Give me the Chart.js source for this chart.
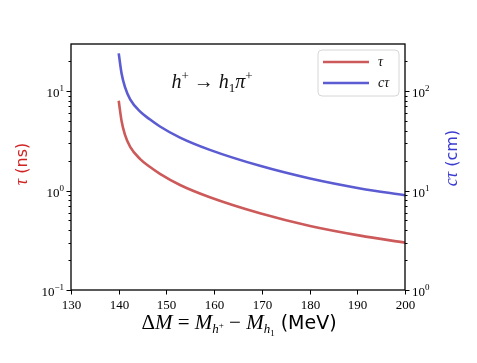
<!DOCTYPE html>
<html>
<head>
<meta charset="utf-8">
<script src="https://cdn.jsdelivr.net/npm/chart.js@4"></script>
<style>
  html, body { margin: 0; padding: 0; background: #fff; }
  #wrap { width: 477px; height: 363px; }
</style>
</head>
<body>
<div id="wrap"><canvas id="chart" width="477" height="363"></canvas></div>
<script>
// ---- Data ----
const DELTA_M = [140, 140.6, 141.3, 142.4, 144.5, 146.5, 148.65, 152.85, 159.1, 169.6, 180.1, 190.6, 200];
const TAU_NS  = [7.98, 5.0, 3.65, 2.75, 2.07, 1.73, 1.47, 1.135, 0.855, 0.59, 0.44, 0.352, 0.299];
const CTAU_CM = [239, 150, 110, 82.5, 62, 52, 44, 34, 25.6, 17.7, 13.2, 10.5, 8.95];
const X_TICKS = [130, 140, 150, 160, 170, 180, 190, 200];

const RED_LINE = '#cd5a5a';
const BLUE_LINE = '#5b5bd2';
const RED_TEXT = '#d02424';
const BLUE_TEXT = '#3a3ad0';
const SERIF = '"Liberation Serif", "DejaVu Serif", serif';
const SANS = '"DejaVu Sans", sans-serif';

// draw a list of text pieces [text, font, dy] centred (or aligned) at x,y
function richText(ctx, parts, x, y, align) {
  let w = 0;
  parts.forEach(p => { ctx.font = p[1]; w += ctx.measureText(p[0]).width; });
  let cx = align === 'left' ? x : align === 'right' ? x - w : x - w / 2;
  ctx.textAlign = 'left';
  ctx.textBaseline = 'alphabetic';
  parts.forEach(p => {
    ctx.font = p[1];
    ctx.fillText(p[0], cx, y + (p[2] || 0));
    cx += ctx.measureText(p[0]).width;
  });
}

function logTicks(min, max) {
  const out = [];
  for (let e = Math.floor(Math.log10(min)); e <= Math.ceil(Math.log10(max)); e++) {
    for (let m = 1; m <= 9; m++) {
      const v = m * Math.pow(10, e);
      if (v >= min * 0.999 && v <= max * 1.001) out.push({ v, major: m === 1, e });
    }
  }
  return out;
}

const decorations = {
  id: 'decorations',
  afterDraw(chart) {
    const { ctx, chartArea: a, scales } = chart;
    ctx.save();
    ctx.strokeStyle = '#000';
    ctx.fillStyle = '#000';

    // frame
    ctx.lineWidth = 1.3;
    ctx.strokeRect(a.left, a.top, a.right - a.left, a.bottom - a.top);

    // x ticks
    ctx.lineWidth = 1;
    X_TICKS.forEach(v => {
      const px = Math.round(scales.x.getPixelForValue(v)) + 0.5;
      ctx.beginPath(); ctx.moveTo(px, a.bottom); ctx.lineTo(px, a.bottom + 4.5); ctx.stroke();
      ctx.font = '13px ' + SERIF;
      ctx.textAlign = 'center'; ctx.textBaseline = 'alphabetic';
      ctx.fillText(String(v), px, a.bottom + 19);
    });

    // log ticks, left and right
    [['y', a.left, -1], ['y2', a.right, 1]].forEach(([id, edge, dir]) => {
      const s = scales[id];
      logTicks(s.min, s.max).forEach(t => {
        const py = Math.round(s.getPixelForValue(t.v)) + 0.5;
        const len = t.major ? 4.5 : 2.5;
        ctx.beginPath(); ctx.moveTo(edge, py); ctx.lineTo(edge + dir * len, py); ctx.stroke();
        if (t.major) {
          const parts = [['10', '13px ' + SERIF, 0], [String(t.e).replace('-', '\u2212'), '9px ' + SERIF, -6]];
          richText(ctx, parts, edge + dir * 7, py + 5, dir < 0 ? 'right' : 'left');
        }
      });
    });

    // x axis title
    const mi = 'italic 21px ' + SERIF, up = '21px ' + SERIF, sm = 'italic 13px ' + SERIF;
    richText(ctx, [
      ['\u0394', up], ['M', mi], [' = ', up], ['M', mi], ['h', sm, 4], ['+', '9px ' + SERIF, -1],
      [' \u2212 ', up], ['M', mi], ['h', sm, 4], ['1', '9px ' + SERIF, 7],
      [' (MeV)', '19px ' + SANS]
    ], (a.left + a.right) / 2 + 1, 329);

    // left y title
    ctx.save();
    ctx.translate(27, 164);
    ctx.rotate(-Math.PI / 2);
    ctx.fillStyle = RED_TEXT;
    richText(ctx, [['\u03c4', 'italic 18px ' + SERIF], [' (ns)', '16px ' + SANS]], 0, 0);
    ctx.restore();

    // right y title
    ctx.save();
    ctx.translate(457, 158);
    ctx.rotate(-Math.PI / 2);
    ctx.fillStyle = BLUE_TEXT;
    richText(ctx, [['c\u03c4', 'italic 18px ' + SERIF], [' (cm)', '16px ' + SANS]], 0, 0);
    ctx.restore();

    // annotation
    ctx.fillStyle = '#111';
    richText(ctx, [
      ['h', 'italic 20px ' + SERIF], ['+', '13px ' + SERIF, -8], [' \u2192 ', '20px ' + SERIF],
      ['h', 'italic 20px ' + SERIF], ['1', '13px ' + SERIF, 4], ['\u03c0', 'italic 20px ' + SERIF],
      ['+', '13px ' + SERIF, -8]
    ], 212, 88);

    // legend box
    const lx = 318, ly = 50, lw = 81, lh = 46;
    ctx.beginPath();
    ctx.roundRect(lx, ly, lw, lh, 4);
    ctx.fillStyle = 'rgba(255,255,255,0.85)';
    ctx.fill();
    ctx.strokeStyle = '#d6d6d6';
    ctx.lineWidth = 1;
    ctx.stroke();
    [[RED_LINE, '\u03c4', 62], [BLUE_LINE, 'c\u03c4', 83]].forEach(([col, label, yy]) => {
      ctx.strokeStyle = col; ctx.lineWidth = 2.5;
      ctx.beginPath(); ctx.moveTo(323, yy); ctx.lineTo(369, yy); ctx.stroke();
      ctx.fillStyle = '#111';
      richText(ctx, [[label, 'italic 14px ' + SERIF]], 378, yy + 4, 'left');
    });
    ctx.restore();
  }
};

const ctx = document.getElementById('chart').getContext('2d');
new Chart(ctx, {
  type: 'line',
  data: {
    datasets: [
      {
        label: 'tau',
        data: DELTA_M.map((x, i) => ({ x, y: TAU_NS[i] })),
        borderColor: RED_LINE, borderWidth: 2.6, pointRadius: 0,
        cubicInterpolationMode: 'monotone', yAxisID: 'y'
      },
      {
        label: 'ctau',
        data: DELTA_M.map((x, i) => ({ x, y: CTAU_CM[i] })),
        borderColor: BLUE_LINE, borderWidth: 2.6, pointRadius: 0,
        cubicInterpolationMode: 'monotone', yAxisID: 'y2'
      }
    ]
  },
  options: {
    responsive: false,
    animation: false,
    layout: { padding: { top: 44 } },
    plugins: { legend: { display: false }, tooltip: { enabled: false } },
    scales: {
      x: {
        type: 'linear', min: 130, max: 200,
        ticks: { display: false }, grid: { display: false }, border: { display: false },
        afterFit: s => { s.height = 73; }
      },
      y: {
        type: 'logarithmic', position: 'left', min: 0.1, max: 29.7,
        ticks: { display: false }, grid: { display: false }, border: { display: false },
        afterFit: s => { s.width = 71; }
      },
      y2: {
        type: 'logarithmic', position: 'right', min: 1, max: 297,
        ticks: { display: false }, grid: { display: false }, border: { display: false },
        afterFit: s => { s.width = 72; }
      }
    }
  },
  plugins: [decorations]
});
</script>
</body>
</html>
